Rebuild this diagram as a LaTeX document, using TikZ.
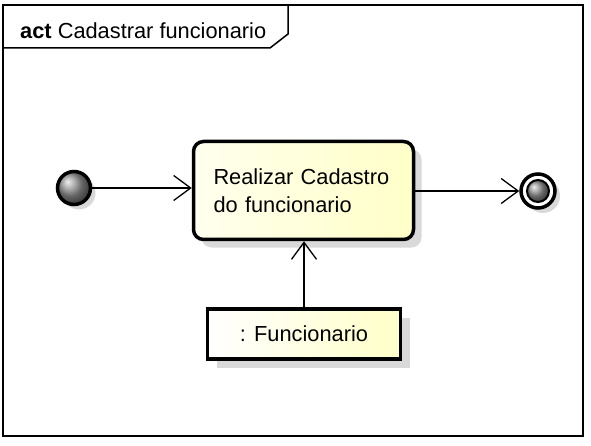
\documentclass[tikz,border=0pt]{standalone}
\usepackage{fontspec}
\setmainfont{Liberation Sans}
\usetikzlibrary{arrows.meta,shadows,positioning}

\definecolor{actlight}{RGB}{255,255,238}
\definecolor{actdark}{RGB}{255,255,200}

\tikzset{
  softshadow/.style={drop shadow={shadow xshift=#1, shadow yshift=-#1, fill=black!15, opacity=1}},
  flowline/.style={line width=1.3pt, ->},
  initnode/.style={circle, draw, line width=3.5pt, minimum size=33pt, inner sep=0pt,
    ball color=gray!85, softshadow=5pt},
  finalnode/.style={circle, draw, line width=3.5pt, minimum size=34pt, inner sep=0pt,
    fill=white, softshadow=5pt},
  actionbox/.style={rectangle, rounded corners=10pt, draw, line width=3.5pt,
    minimum width=220pt, minimum height=98pt, text width=180pt, align=left,
    left color=actlight, right color=actdark, softshadow=8pt},
  objectbox/.style={rectangle, draw, line width=3.5pt, minimum width=193pt,
    minimum height=50pt, left color=white, right color=actdark, softshadow=9pt}
}

\begin{document}
\begin{tikzpicture}[x=1pt, y=-1pt, >={Straight Barb[length=17pt,width=25pt]},
    every node/.append style={font=\fontsize{21.8}{28}\selectfont}]
    \useasboundingbox (0,0) rectangle (591,446);

    % Frame with tab
    \draw[line width=2.5pt] (3,5) rectangle (583,436);
    \draw[line width=1.5pt] (3,48) -- (270,48) -- (288,34) -- (288,5);
    \node[anchor=west, inner sep=0pt] (title) at (20,31) {\textbf{act} Cadastrar funcionario};

    % Nodes
    \node[initnode] (start) at (74,188) {};
    \node[actionbox] (act) at (303.5,190.5) {Realizar Cadastro\\do funcionario};
    \node[finalnode] (stop) at (538,191) {};
    \draw[line width=2pt, ball color=gray!85] (stop.center) circle (11);
    \node[objectbox] (obj) at (304,334) {: Funcionario};

    % Connectors
    \draw[flowline] (start.east) -- (act.west |- start.east);
    \draw[flowline] (act.east |- stop) -- (stop.west);
    \draw[flowline] (obj.north) -- (obj.north |- act.south);
\end{tikzpicture}
\end{document}
